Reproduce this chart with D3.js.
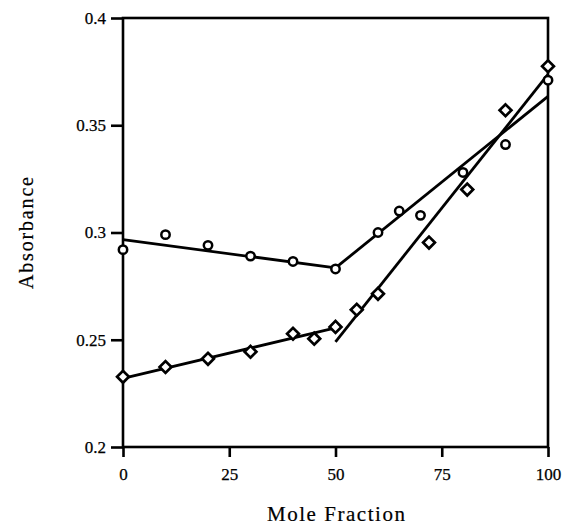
<!DOCTYPE html>
<meta charset="utf-8"/>
<head>
<script src="https://cdn.jsdelivr.net/npm/d3@7"></script>
<style>
body { margin: 0; background: #fff; }
svg { background: #fff; }
text { font-family: 'Liberation Serif', 'Times New Roman', serif; fill: #000; }
.axis line { stroke: #000; stroke-width: 2.6px; }
.axis path { display: none; }
.fit { fill: none; stroke: #000; stroke-width: 2.8px; }
.circ { fill: #fff; stroke: #000; stroke-width: 2.5px; }
.diam { fill: #fff; stroke: #000; stroke-width: 2.7px; }
</style>
</head>
<body>
<div id="chart"></div>
<script>

// open circle series
var circX = [0, 10, 20, 30, 40, 50, 60, 65, 70, 80, 90, 100];
var circY = [0.292, 0.299, 0.294, 0.289, 0.2865, 0.283, 0.300, 0.310, 0.308, 0.328, 0.341, 0.371];

// diamond series
var diamX = [0, 10, 20, 30, 40, 45, 50, 55, 60, 72, 81, 90, 100];
var diamY = [0.2327, 0.2373, 0.2411, 0.2444, 0.2528, 0.2505, 0.256, 0.264, 0.2714, 0.2953, 0.320, 0.357, 0.3775];

// fitted lines: [x0, y0, x1, y1]
var circFit = [[0, 0.2967, 50, 0.2835], [50, 0.2835, 100, 0.3635]];
var diamFit = [[0, 0.232, 50, 0.2555], [50, 0.249, 100, 0.3737]];

var xTicks = [0, 25, 50, 75, 100];
var yTicks = [0.2, 0.25, 0.3, 0.35, 0.4];

var W = 565, H = 525;
var margin = { left: 123, right: 17, top: 18, bottom: 78 };

var x = d3.scaleLinear().domain([0, 100]).range([margin.left, W - margin.right]);
var y = d3.scaleLinear().domain([0.2, 0.4]).range([H - margin.bottom, margin.top]);

var svg = d3.select("#chart").append("svg")
    .attr("width", W)
    .attr("height", H);

// axes with outward ticks
var yAxis = svg.append("g")
    .attr("class", "axis")
    .attr("transform", "translate(" + margin.left + ",0)")
    .call(d3.axisLeft(y).tickValues(yTicks).tickSize(12).tickPadding(5)
      .tickFormat(function(d) { return String(+d.toFixed(2)); }));

var xAxis = svg.append("g")
    .attr("class", "axis")
    .attr("transform", "translate(0," + (H - margin.bottom) + ")")
    .call(d3.axisBottom(x).tickValues(xTicks).tickSize(10).tickPadding(11));

[yAxis, xAxis].forEach(function(a) {
  a.attr("font-family", null).attr("font-size", null);
  a.selectAll("text")
      .style("font-family", "'Liberation Serif', serif")
      .style("font-size", "17px")
      .style("stroke", "#000")
      .style("stroke-width", "0.25px");
});

// frame
svg.append("rect")
    .attr("x", x(0))
    .attr("y", y(0.4))
    .attr("width", x(100) - x(0))
    .attr("height", y(0.2) - y(0.4))
    .attr("fill", "none")
    .attr("stroke", "#000")
    .attr("stroke-width", 2.6);

// fit lines
var line = d3.line()
    .x(function(d) { return x(d[0]); })
    .y(function(d) { return y(d[1]); });

circFit.concat(diamFit).forEach(function(s) {
  svg.append("path")
      .attr("class", "fit")
      .attr("d", line([[s[0], s[1]], [s[2], s[3]]]));
});

// circle markers
svg.selectAll(".circ")
    .data(circX)
  .enter().append("circle")
    .attr("class", "circ")
    .attr("cx", function(d) { return x(d); })
    .attr("cy", function(d, i) { return y(circY[i]); })
    .attr("r", 4.2);

// diamond markers
var diamond = d3.symbol().type(d3.symbolSquare).size(70);
svg.selectAll(".diam")
    .data(diamX)
  .enter().append("path")
    .attr("class", "diam")
    .attr("d", diamond)
    .attr("transform", function(d, i) {
      return "translate(" + x(d) + "," + y(diamY[i]) + ") rotate(45)";
    });

// axis titles
svg.append("text")
    .attr("x", 336)
    .attr("y", 521)
    .attr("text-anchor", "middle")
    .attr("textLength", 138)
    .style("font-size", "21px")
    .style("stroke", "#000")
    .style("stroke-width", "0.2px")
    .text("Mole Fraction");

svg.append("text")
    .attr("transform", "translate(33,233) rotate(-90)")
    .attr("text-anchor", "middle")
    .attr("textLength", 112)
    .style("font-size", "20px")
    .style("stroke", "#000")
    .style("stroke-width", "0.2px")
    .text("Absorbance");

</script>
</body>
